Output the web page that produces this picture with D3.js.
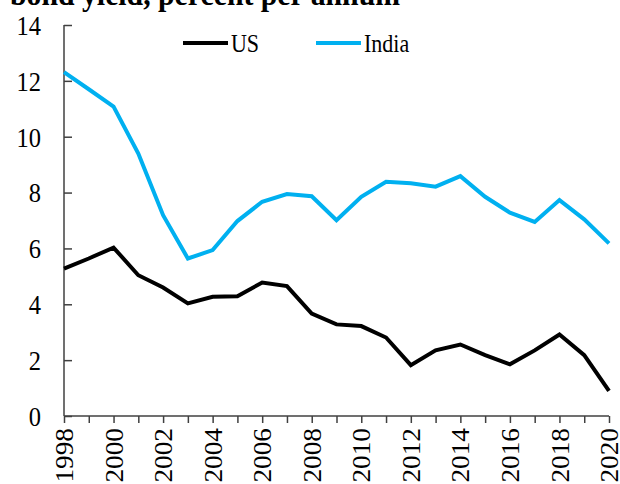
<!DOCTYPE html>
<html>
<head>
<meta charset="utf-8">
<script src="https://cdn.jsdelivr.net/npm/d3@7"></script>
<style>
  body { margin: 0; background: #fff; }
</style>
</head>
<body>
<svg width="620" height="484" style="font-family: 'Liberation Serif', serif"></svg>
<script>
var years = d3.range(1998, 2021);
var usYield = [5.28, 5.64, 6.03, 5.04, 4.60, 4.03, 4.27, 4.29, 4.78, 4.65, 3.67, 3.28, 3.22,
               2.81, 1.82, 2.35, 2.56, 2.18, 1.85, 2.35, 2.92, 2.18, 0.90];
var indiaYield = [12.31, 11.70, 11.08, 9.40, 7.19, 5.64, 5.94, 6.98, 7.67, 7.95, 7.87, 7.01, 7.85,
                  8.39, 8.33, 8.21, 8.59, 7.85, 7.28, 6.95, 7.73, 7.04, 6.18];
var yTicks = [0, 2, 4, 6, 8, 10, 12, 14];
var xTicks = d3.range(1998, 2021, 2);
var seriesNames = ["US", "India"];
var seriesColors = ["#000000", "#00B0F0"];

var w = 620, h = 484;
var margin = {left: 64, right: 11, top: 25, bottom: 68};
var serif = "'Liberation Serif', serif";
var stretch = 1.15; // source picture is a bit taller than wide

var svg = d3.select("svg");

var x = d3.scaleLinear().domain([1998, 2020]).range([margin.left, w - margin.right]);
var y = d3.scaleLinear().domain([0, 14]).range([h - margin.bottom, margin.top]);

// title (cut off at top, as in the source)
svg.append("text")
  .attr("transform", "translate(10,5) scale(1," + stretch + ")")
  .style("font-family", serif)
  .attr("font-size", 27)
  .attr("font-weight", "bold")
  .attr("textLength", 390)
  .attr("lengthAdjust", "spacingAndGlyphs")
  .text("bond yield, percent per annum");

var axisColor = "#404040";

// y axis: ticks pointing inward
var yAxis = svg.append("g")
  .attr("transform", "translate(" + margin.left + ",0)")
  .call(d3.axisRight(y).tickValues(yTicks).tickSize(8).tickFormat(""));
yAxis.select(".domain").attr("stroke", axisColor).attr("stroke-width", 1.5)
  .attr("d", "M0," + y(14) + "V" + y(0));
yAxis.selectAll(".tick line").attr("stroke", axisColor).attr("stroke-width", 1.5);

svg.append("g").style("font-family", serif).selectAll("text")
  .data(yTicks)
  .enter()
  .append("text")
  .attr("transform", function(d) {
    return "translate(41," + y(d) + ") scale(1," + stretch + ")";
  })
  .attr("dy", "0.35em")
  .attr("text-anchor", "end")
  .style("font-family", serif)
  .attr("font-size", 24.5)
  .attr("fill", "#000")
  .text(function(d) { return d; });

// x axis: ticks every year, labels every 2
var xAxis = svg.append("g")
  .attr("transform", "translate(0," + y(0) + ")")
  .call(d3.axisBottom(x).tickValues(years).tickSize(7).tickFormat(""));
xAxis.select(".domain").attr("stroke", axisColor).attr("stroke-width", 1.5)
  .attr("d", "M" + x(1998) + ",0H" + x(2020));
xAxis.selectAll(".tick line").attr("stroke", axisColor).attr("stroke-width", 1.5);

svg.append("g").style("font-family", serif).selectAll("text")
  .data(xTicks)
  .enter()
  .append("text")
  .attr("transform", function(d) {
    return "translate(" + x(d) + "," + (y(0) + 12) + ") rotate(-90) scale(1.05,1)";
  })
  .attr("dy", "0.35em")
  .attr("text-anchor", "end")
  .style("font-family", serif)
  .attr("font-size", 26)
  .attr("fill", "#000")
  .text(function(d) { return d; });

// lines
var line = d3.line()
  .x(function(d, i) { return x(years[i]); })
  .y(function(d) { return y(d); });

[usYield, indiaYield].forEach(function(s, k) {
  svg.append("path")
    .datum(s)
    .attr("fill", "none")
    .attr("stroke", seriesColors[k])
    .attr("stroke-width", 4)
    .attr("stroke-linejoin", "miter")
    .attr("d", line);
});

// legend
var legendX = [183, 316];
seriesNames.forEach(function(name, k) {
  var g = svg.append("g").attr("transform", "translate(" + legendX[k] + ",43)");
  g.append("line")
    .attr("x1", 0).attr("x2", 45)
    .attr("stroke", seriesColors[k])
    .attr("stroke-width", 4);
  g.append("text")
    .attr("transform", "translate(48,0) scale(1," + stretch + ")")
    .attr("dy", "0.35em")
    .style("font-family", serif)
    .attr("font-size", 22)
    .text(name);
});
</script>
</body>
</html>
